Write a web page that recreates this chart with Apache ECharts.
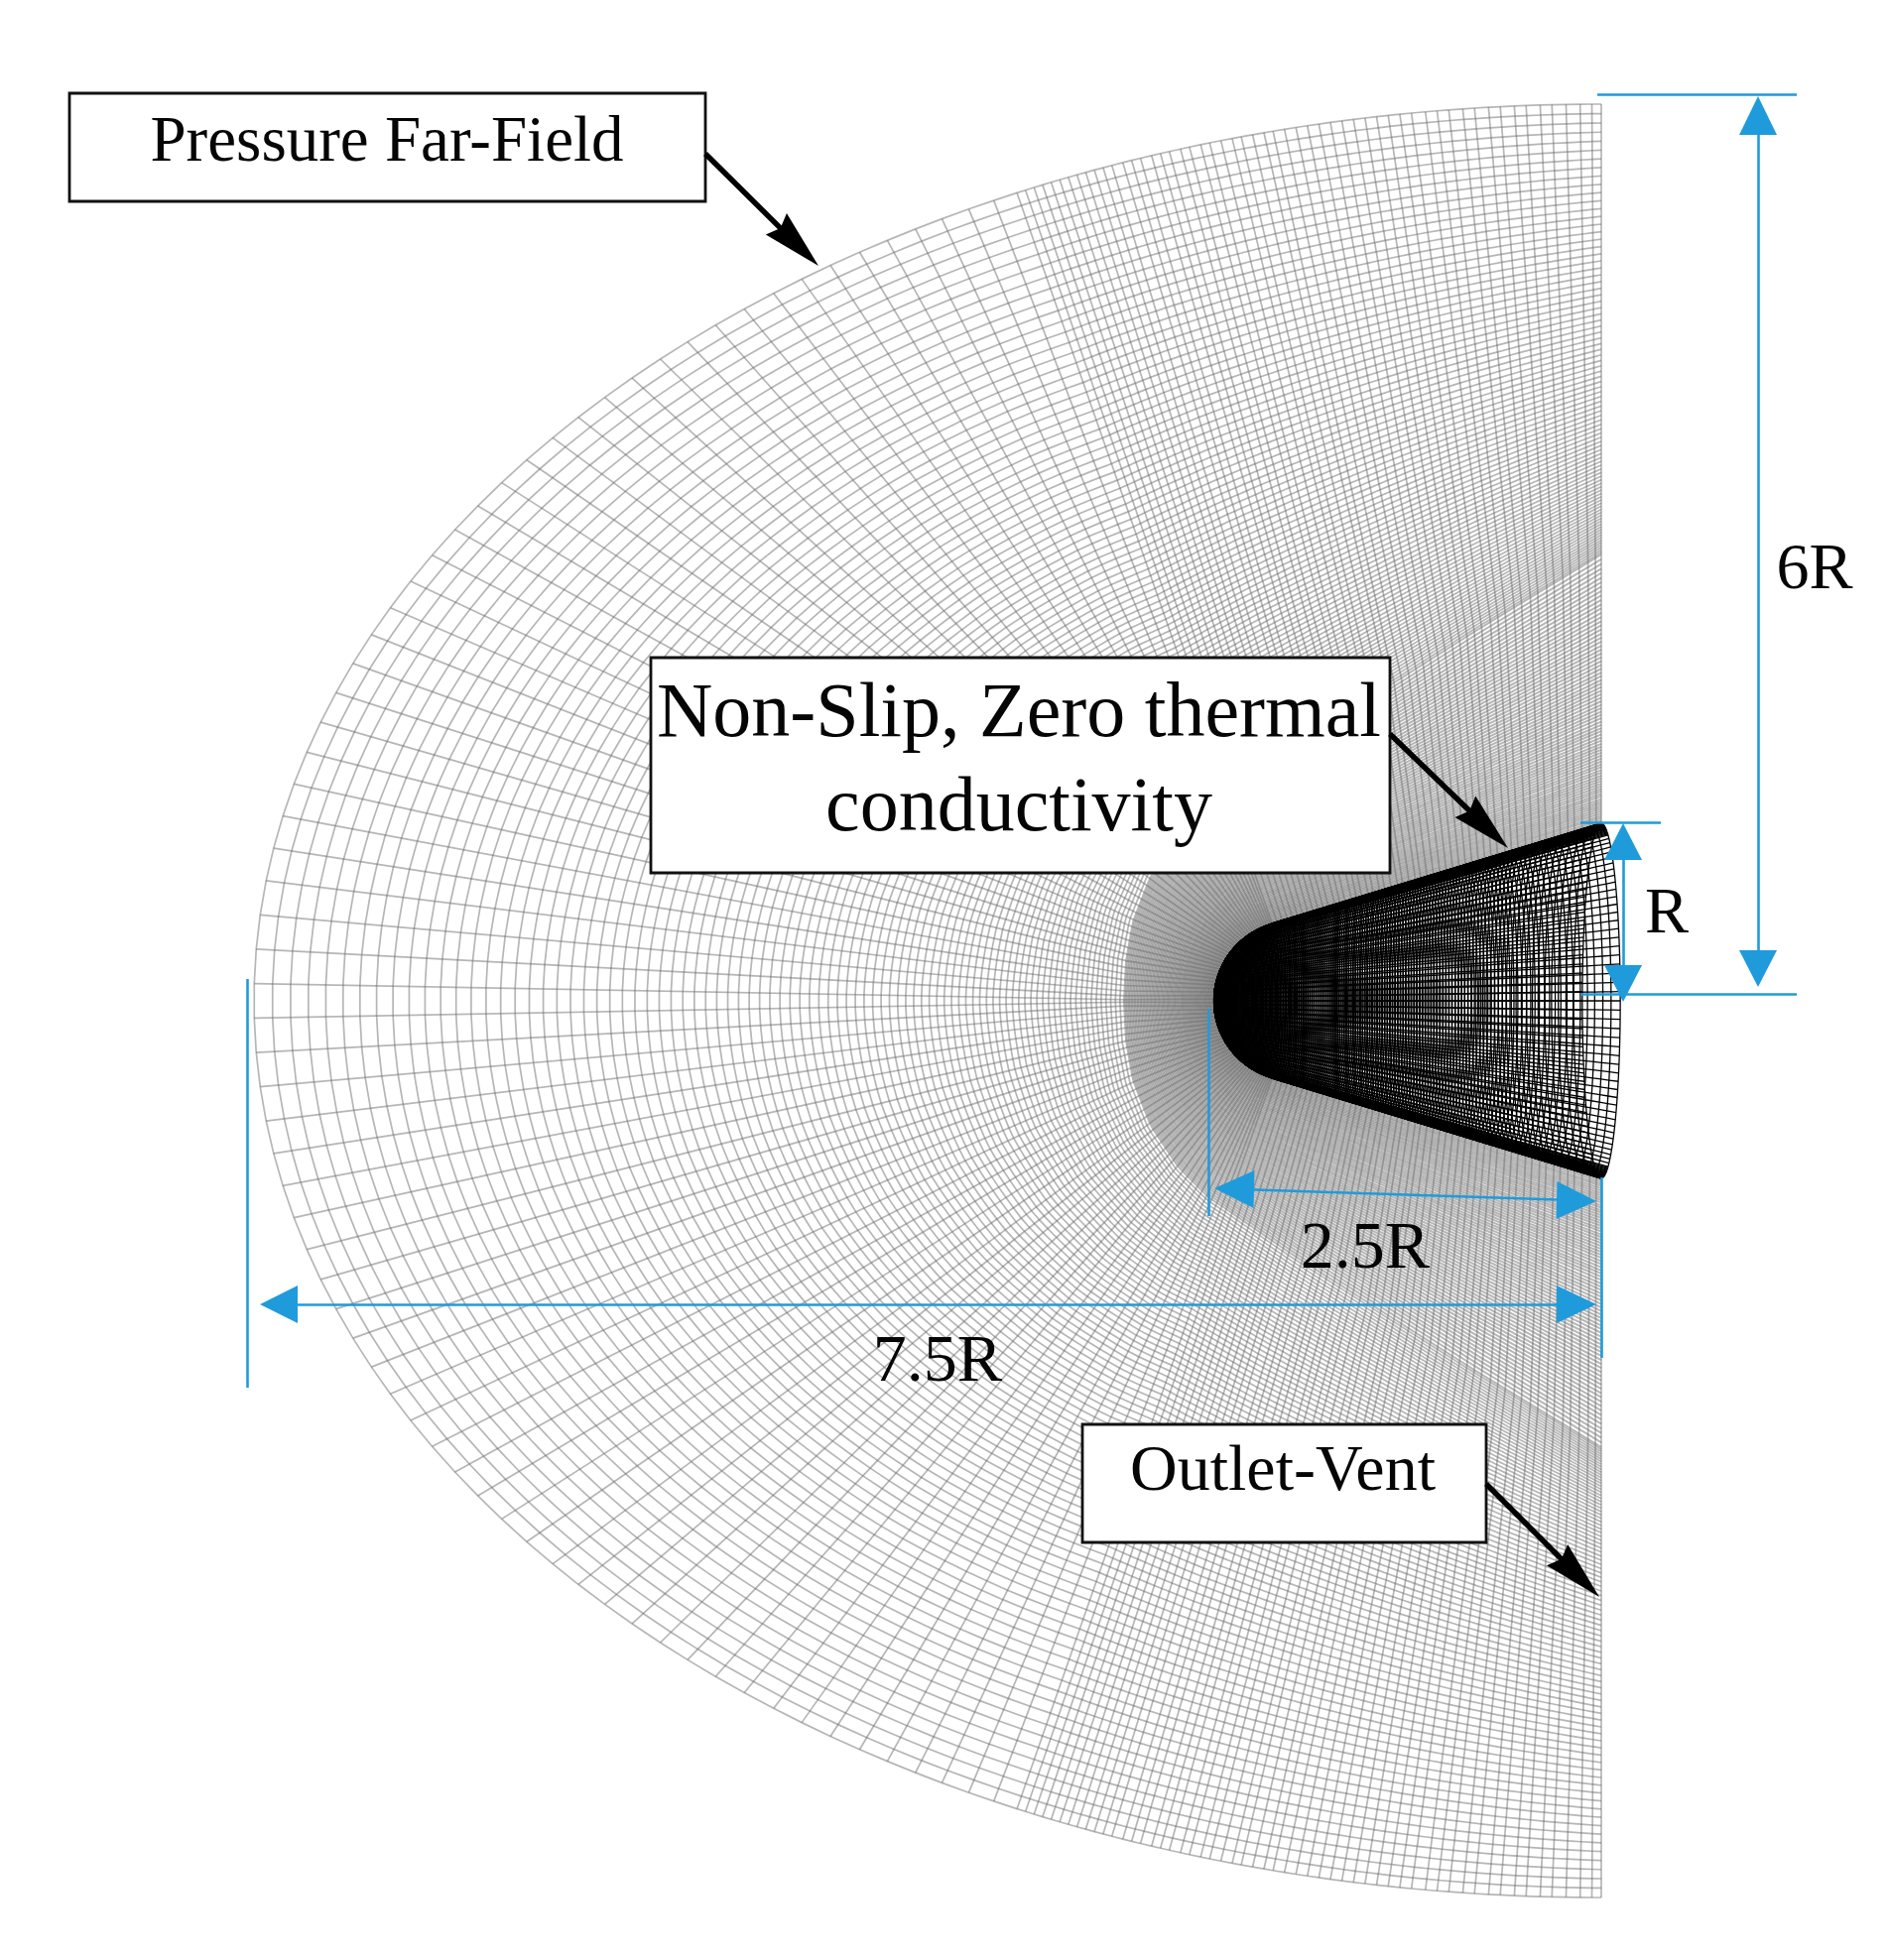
<!DOCTYPE html>
<html lang="en">

<head>
    <meta charset="UTF-8">
    <title>Mesh</title>
    <script src="https://cdn.jsdelivr.net/npm/echarts@6/dist/echarts.min.js"></script>
    <style>
        * {
            margin: 0;
            padding: 0
        }

        html,
        body {
            height: 100%;
            background: #fff;
        }
    </style>
</head>

<body>
    <div id="main" style="width:1904px;height:1976px"></div>

    <script>
        // axes run in picture units, all readings below are taken from the picture
        var axisY = 1009, outletX = 1614;
        var farA = 1358, farB = 904;
        var noseCx = 1305, noseR = 81, shoulderDeg = 73.8;
        var shoulderX = 1282, shoulderR = 78, baseX = 1614, baseR = 179;
        var capStretch = 0.107;

        // far-field stations of the spokes (degrees from the axis, one half, other half mirrored)
        var spokeNoseDeg = [1.1, 3.3, 5.5, 7.7, 9.8, 11.9, 14.0, 16.1, 18.1, 20.1, 22.1, 24.1, 26.0, 27.9, 29.8, 31.7, 33.5, 35.3, 37.1, 38.9, 40.6, 42.3, 44.0, 45.7, 47.3, 48.9, 50.5, 52.1, 53.6, 55.1, 56.6, 58.0, 59.4, 60.7, 62.0, 63.2, 64.3];
        var spokeConeDeg = [64.7, 65.1, 65.5, 65.9, 66.3, 66.7, 67.1, 67.5, 67.9, 68.3, 68.7, 69.2, 69.6, 70.0, 70.5, 70.9, 71.3, 71.8, 72.2, 72.7, 73.1, 73.6, 74.1, 74.5, 75.0, 75.5, 75.9, 76.4, 76.9, 77.4, 77.9, 78.4, 78.9, 79.4, 79.9, 80.4, 80.9, 81.4, 81.9, 82.5, 83.0, 83.5, 84.1, 84.6, 85.2, 85.7, 86.3, 86.8, 87.4, 87.9, 88.5, 89.1, 89.6, 90];

        // ring crossings on the axis, far field -> dense band
        var ringOuterX = [256, 274.5, 292.7, 310.6, 328.2, 345.6, 362.6, 379.4, 395.9, 412.2, 428.2, 444, 459.5, 474.7, 489.7, 504.5, 519, 533.3, 547.4, 561.2, 574.9, 588.3, 601.5, 614.5, 627.2, 639.8, 652.2, 664.3, 676.3, 688.1, 699.7, 711.1, 722.3, 733.4, 744.3, 755, 765.5, 775.8, 786, 796.1, 806, 815.7, 825.2, 834.6, 843.9, 853, 862, 870.8, 879.5, 888, 896.4, 904.7, 912.8, 920.8, 928.7, 936.5, 944.1, 951.6, 959, 966.3, 973.4, 980.5, 987.4, 994.2, 1000.9, 1007.5, 1014, 1020.4, 1026.7, 1032.9, 1039, 1045, 1050.9, 1056.7, 1062.4, 1068, 1073.5, 1079, 1084.3, 1089.6, 1094.8, 1099.9, 1104.9, 1109.8, 1114.7, 1119.5, 1124.2, 1128.8];
        // dense band -> nose
        var ringInnerX = [1133, 1134.6, 1136.2, 1137.8, 1139.3, 1140.9, 1142.4, 1143.9, 1145.4, 1146.9, 1148.4, 1149.9, 1151.3, 1152.8, 1154.2, 1155.6, 1157, 1158.4, 1159.8, 1161.2, 1162.5, 1163.9, 1165.2, 1166.5, 1167.8, 1169.1, 1170.4, 1171.7, 1173, 1174.2, 1175.5, 1176.7, 1177.9, 1179.1, 1180.3, 1181.5, 1182.7, 1183.9, 1185, 1186.2, 1187.3, 1188.4, 1189.6, 1190.7, 1191.8, 1192.8, 1193.9, 1195, 1196, 1197.1, 1198.1, 1199.1, 1200.1, 1201.1, 1202.1, 1203.1, 1204.1, 1205, 1206, 1206.9, 1207.9, 1208.8, 1209.7, 1210.6, 1211.5, 1212.4, 1213.2, 1214.1, 1214.9, 1215.8, 1216.6, 1217.4, 1218.2, 1219, 1219.8, 1220.6, 1221.4, 1222.1, 1222.9, 1223.6];

        // edge of the dense band, distance from the axis
        var bandNoseX = [1133, 1135, 1142, 1160, 1188, 1218, 1236];
        var bandNoseR = [0, 40, 80, 126, 168, 198, 210];
        var bandConeX = [1236, 1303, 1489, 1614];
        var bandConeR = [210, 256, 374, 450];

        // body rings on the axis
        var bodyRingX = [1224.3, 1224.6, 1225, 1225.4, 1225.8, 1226.3, 1226.8, 1227.3, 1227.9, 1228.5, 1229.1, 1229.8, 1230.5, 1231.2, 1232, 1232.8, 1233.6, 1234.5, 1235.4, 1236.3, 1237.3, 1238.3, 1239.3, 1240.3, 1241.3, 1242.3, 1243.4, 1244.5, 1245.6, 1246.7, 1247.8, 1248.9, 1250, 1251.1, 1252.2, 1253.3, 1254.5, 1255.7, 1256.9, 1258.1, 1259.3, 1260.5, 1261.7, 1262.9, 1264.1, 1265.3, 1266.5, 1267.7, 1268.9, 1270.1, 1271.3, 1272.5, 1273.7, 1274.9, 1276.1, 1277.3, 1278.5, 1279.7, 1280.9, 1282, 1283.5, 1285, 1286.5, 1288, 1289.5, 1291.1, 1292.7, 1294.3, 1295.9, 1297.5, 1299.2, 1300.9, 1302.6, 1304.3, 1306, 1307.8, 1309.6, 1311.4, 1313.2, 1315, 1316.9, 1318.8, 1320.7, 1322.6, 1324.5, 1326.5, 1328.5, 1330.5, 1332.5, 1334.5, 1336.6, 1338.7, 1340.8, 1342.9, 1345, 1347.2, 1349.4, 1351.6, 1353.8, 1356, 1358.3, 1360.6, 1362.9, 1365.2, 1367.5, 1369.9, 1372.3, 1374.7, 1377.1, 1379.5, 1382, 1384.5, 1387, 1389.5, 1392, 1394.6, 1397.2, 1399.8, 1402.4, 1405, 1407.7, 1410.4, 1413.1, 1415.8, 1418.5, 1421.3, 1424.1, 1426.9, 1429.7, 1432.5, 1435.4, 1438.3, 1441.2, 1444.1, 1447, 1450, 1453, 1456, 1459, 1462, 1465.2, 1468.4, 1471.6, 1474.8, 1478, 1481.4, 1484.8, 1488.2, 1491.6, 1495, 1498.8, 1502.6, 1506.4, 1510.2, 1514, 1518.2, 1522.4, 1526.6, 1530.8, 1535, 1540, 1545, 1550.5, 1556, 1562, 1568, 1575, 1582, 1589, 1597, 1605, 1614];
        var bodyLongitudes = 120;
        // extra stringers packed against the silhouette, degrees off it
        var bodyEdgeDeg = [1, 2, 4, 5, 7, 8, 10, 11, 13, 14, 16, 17, 19, 20];

        // annotations
        var blueLines = [[1610, 95, 1811, 95], [1593, 1002, 1811, 1002], [1772, 125, 1772, 970], [1593, 829, 1674, 829], [1636, 855, 1636, 985], [1218, 1017, 1218, 1226], [1614, 1187, 1614, 1369], [249, 987, 249, 1399], [1250, 1199, 1585, 1210], [285, 1315, 1585, 1315]];
        var blueHeads = [[1772, 97, 1772, 136], [1772, 995, 1772, 958], [1636, 830, 1636, 867], [1636, 1010, 1636, 973], [1224, 1198, 1264, 1199], [1609, 1211, 1569, 1210], [262, 1315, 300, 1315], [1609, 1315, 1569, 1315]];
        var boxes = [[70, 94, 711, 203], [656, 663, 1401, 880], [1091, 1436, 1498, 1555]];
        var blackArrows = [[711, 155, 825, 268], [1401, 740, 1520, 855], [1498, 1496, 1612, 1610]];
        var labelTexts = ['Pressure Far-Field', 'Non-Slip, Zero thermal', 'conductivity', 'Outlet-Vent', '6R', 'R', '2.5R', '7.5R'];
        var labelX = [390, 1027, 1027, 1293, 1829, 1680, 1376, 945];
        var labelY = [145, 722, 817, 1485, 576, 923, 1260, 1374];
        var labelSize = [65, 78, 78, 66, 66, 66, 68, 68];

        function rad(d) {
            return d * Math.PI / 180;
        }

        function along(xs, rs, f) {
            var lens = [0], i;
            for (i = 1; i < xs.length; i++) {
                lens.push(lens[i - 1] + Math.hypot(xs[i] - xs[i - 1], rs[i] - rs[i - 1]));
            }
            var d = f * lens[lens.length - 1];
            for (i = 1; i < xs.length; i++) {
                if (d <= lens[i] || i == xs.length - 1) {
                    var k = (d - lens[i - 1]) / (lens[i] - lens[i - 1]);
                    return [xs[i - 1] + (xs[i] - xs[i - 1]) * k, rs[i - 1] + (rs[i] - rs[i - 1]) * k];
                }
            }
        }

        function hullAt(u) {
            if (u <= 1) {
                var a = rad(shoulderDeg * u);
                return [noseCx - noseR * Math.cos(a), noseR * Math.sin(a)];
            }
            return [shoulderX + (baseX - shoulderX) * (u - 1), shoulderR + (baseR - shoulderR) * (u - 1)];
        }

        function bandAt(u) {
            // spokes sit closer together near the axis on this edge
            return u <= 1 ? along(bandNoseX, bandNoseR, Math.pow(u, 1.3)) : along(bandConeX, bandConeR, u - 1);
        }

        function farAt(deg) {
            return [outletX - farA * Math.cos(rad(deg)), farB * Math.sin(rad(deg))];
        }

        function mix(p, q, t) {
            return [p[0] + (q[0] - p[0]) * t, p[1] + (q[1] - p[1]) * t];
        }

        // one station per spoke: hull, band and far-field point
        var stations = [];
        spokeNoseDeg.forEach(function (d) {
            var u = d / 64.3;
            stations.push([hullAt(u), bandAt(u), farAt(d)]);
        });
        spokeConeDeg.forEach(function (d) {
            var u = 1 + (d - 64.3) / 25.7;
            stations.push([hullAt(u), bandAt(u), farAt(d)]);
        });

        function toPlot(p, side) {
            return [p[0], axisY + side * p[1]];
        }

        var meshLines = [];
        stations.forEach(function (s) {
            [-1, 1].forEach(function (side) {
                meshLines.push({
                    coords: s.map(function (p) { return toPlot(p, side); })
                });
            });
        });

        function ringThrough(pick) {
            var pts = [], i;
            for (i = stations.length - 1; i >= 0; i--) pts.push(toPlot(pick(stations[i]), -1));
            for (i = 0; i < stations.length; i++) pts.push(toPlot(pick(stations[i]), 1));
            return { coords: pts };
        }

        var bandX = bandNoseX[0], noseX = noseCx - noseR, farX = outletX - farA;
        ringOuterX.forEach(function (x) {
            var t = (bandX - x) / (bandX - farX);
            meshLines.push(ringThrough(function (s) { return mix(s[1], s[2], t); }));
        });
        var denseLines = ringInnerX.map(function (x) {
            var t = (noseX - x) / (noseX - bandX);
            return ringThrough(function (s) { return mix(s[0], s[1], t); });
        });

        // body wireframe: rings seen as ellipses, stringers through the same rings
        function bodyRadius(x) {
            if (x < shoulderX) return Math.sqrt(Math.max(0, noseR * noseR - (x - noseCx) * (x - noseCx)));
            return shoulderR + (x - shoulderX) * (baseR - shoulderR) / (baseX - shoulderX);
        }

        function bodyPoint(x, a) {
            var r = bodyRadius(x);
            return [x + capStretch * r * Math.cos(a), axisY + r * Math.sin(a)];
        }

        var bodyLines = [];
        function addStringer(a) {
            bodyLines.push({
                coords: bodyRingX.map(function (x) { return bodyPoint(x, a); })
            });
        }
        bodyRingX.forEach(function (x) {
            var pts = [];
            for (var k = 0; k <= 72; k++) pts.push(bodyPoint(x, k / 72 * 2 * Math.PI));
            bodyLines.push({ coords: pts });
        });
        for (var k = 0; k < bodyLongitudes; k++) {
            addStringer(k / bodyLongitudes * 2 * Math.PI);
        }
        bodyEdgeDeg.forEach(function (d) {
            [90 - d, 90 + d, 270 - d, 270 + d].forEach(function (a) {
                addStringer(rad(a));
            });
        });

        function arrowHead(api, tipX, tipY, tailX, tailY, half, fill, notch) {
            var dx = tipX - tailX, dy = tipY - tailY, len = Math.hypot(dx, dy);
            var nx = -dy / len * half, ny = dx / len * half;
            var pts = [
                api.coord([tipX, tipY]),
                api.coord([tailX + nx, tailY + ny])
            ];
            if (notch) pts.push(api.coord([tailX + dx / len * notch, tailY + dy / len * notch]));
            pts.push(api.coord([tailX - nx, tailY - ny]));
            return {
                type: 'polygon',
                shape: { points: pts },
                style: { fill: fill }
            };
        }

        var chart = echarts.init(document.getElementById('main'), null, { renderer: 'canvas' });
        chart.setOption({
            animation: false,
            backgroundColor: '#fff',
            grid: { left: 0, right: 0, top: 0, bottom: 0 },
            xAxis: { type: 'value', min: 0, max: 1904, show: false },
            yAxis: { type: 'value', min: 0, max: 1976, inverse: true, show: false },
            series: [{
                type: 'lines',
                coordinateSystem: 'cartesian2d',
                polyline: true,
                silent: true,
                progressive: 0,
                lineStyle: { color: '#6e6e6e', width: 1.7, opacity: 0.5 },
                data: meshLines
            }, {
                type: 'lines',
                coordinateSystem: 'cartesian2d',
                polyline: true,
                silent: true,
                progressive: 0,
                lineStyle: { color: '#6e6e6e', width: 2, opacity: 0.5 },
                data: denseLines
            }, {
                type: 'lines',
                coordinateSystem: 'cartesian2d',
                polyline: true,
                silent: true,
                progressive: 0,
                lineStyle: { color: '#000', width: 1.3, opacity: 1 },
                data: bodyLines
            }, {
                type: 'lines',
                coordinateSystem: 'cartesian2d',
                silent: true,
                progressive: 0,
                lineStyle: { color: '#1f9bdc', width: 2.6, opacity: 1 },
                data: blueLines.map(function (l) {
                    return { coords: [[l[0], l[1]], [l[2], l[3]]] };
                })
            }, {
                type: 'custom',
                silent: true,
                data: blueHeads,
                renderItem: function (params, api) {
                    return arrowHead(api, api.value(0), api.value(1), api.value(2), api.value(3), 19, '#1f9bdc');
                }
            }, {
                type: 'custom',
                silent: true,
                data: boxes,
                renderItem: function (params, api) {
                    var a = api.coord([api.value(0), api.value(1)]);
                    var b = api.coord([api.value(2), api.value(3)]);
                    return {
                        type: 'rect',
                        shape: { x: a[0], y: a[1], width: b[0] - a[0], height: b[1] - a[1] },
                        style: { fill: '#fff', stroke: '#111', lineWidth: 2.8 }
                    };
                }
            }, {
                type: 'custom',
                silent: true,
                data: blackArrows,
                renderItem: function (params, api) {
                    var x1 = api.value(0), y1 = api.value(1), x2 = api.value(2), y2 = api.value(3);
                    var len = Math.hypot(x2 - x1, y2 - y1);
                    var bx = x2 - (x2 - x1) / len * 60, by = y2 - (y2 - y1) / len * 60;
                    // shaft runs on into the head so the notch leaves no gap
                    var sx = x2 - (x2 - x1) / len * 46, sy = y2 - (y2 - y1) / len * 46;
                    var a = api.coord([x1, y1]), b = api.coord([sx, sy]);
                    return {
                        type: 'group',
                        children: [{
                            type: 'line',
                            shape: { x1: a[0], y1: a[1], x2: b[0], y2: b[1] },
                            style: { stroke: '#000', lineWidth: 5.5 }
                        }, arrowHead(api, x2, y2, bx, by, 15, '#000', 6)]
                    };
                }
            }, {
                type: 'custom',
                silent: true,
                data: labelTexts.map(function (t, i) {
                    return [labelX[i], labelY[i], labelSize[i]];
                }),
                renderItem: function (params, api) {
                    var p = api.coord([api.value(0), api.value(1)]);
                    return {
                        type: 'text',
                        style: {
                            x: p[0],
                            y: p[1],
                            text: labelTexts[params.dataIndex],
                            fill: '#050505',
                            fontFamily: 'Liberation Serif',
                            fontSize: api.value(2),
                            align: 'center',
                            verticalAlign: 'middle'
                        }
                    };
                }
            }]
        });
    </script>
</body>

</html>
